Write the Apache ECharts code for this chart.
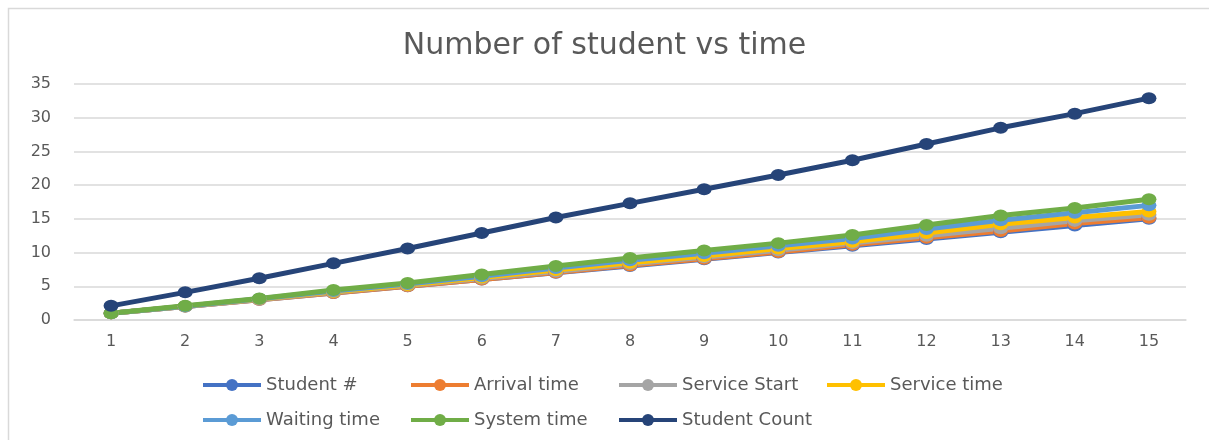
<!DOCTYPE html>
<html>
<head>
<meta charset="utf-8">
<script src="https://cdn.jsdelivr.net/npm/echarts@6/dist/echarts.min.js"></script>
<style>html,body{margin:0;padding:0;background:#fff;}#c{width:1209px;height:440px;}</style>
</head>
<body>
<div id="c"></div>
<script>
const categories = ['1','2','3','4','5','6','7','8','9','10','11','12','13','14','15'];
const studentNo     = [1, 2, 3, 4, 5, 6, 7, 8, 9, 10, 11, 12, 13, 14, 15];
const arrivalTime   = [1, 2, 3, 4, 5, 6, 7.05, 8.1, 9.1, 10.1, 11.15, 12.2, 13.2, 14.3, 15.15];
const serviceStart  = [1, 2, 3.05, 4.1, 5.1, 6.15, 7.2, 8.3, 9.3, 10.35, 11.4, 12.5, 13.6, 14.7, 15.6];
const serviceTime   = [1, 2.05, 3.1, 4.2, 5.2, 6.3, 7.4, 8.5, 9.5, 10.6, 11.6, 12.9, 14.2, 15.2, 16.1];
const waitingTime   = [1, 2.05, 3.15, 4.3, 5.35, 6.5, 7.7, 8.85, 9.9, 11.0, 12.1, 13.5, 14.8, 15.9, 17.0];
const systemTime    = [1, 2.1, 3.2, 4.45, 5.5, 6.75, 8.0, 9.2, 10.3, 11.4, 12.6, 14.1, 15.5, 16.6, 17.9];
const studentCount  = [2.1, 4.1, 6.2, 8.4, 10.6, 12.9, 15.2, 17.3, 19.4, 21.5, 23.7, 26.1, 28.5, 30.6, 32.9];
const yTicks = { min: 0, max: 35, interval: 5 };

const names = ['Student #','Arrival time','Service Start','Service time','Waiting time','System time','Student Count'];
const values = [studentNo, arrivalTime, serviceStart, serviceTime, waitingTime, systemTime, studentCount];
const colors = ['#4472C4','#ED7D31','#A5A5A5','#FFC000','#5B9BD5','#70AD47','#264478'];
const legendPos = [[201,376],[409,376],[617,376],[825,376],[201,411],[409,411],[617,411]];

const font = 'DejaVu Sans';
const chart = echarts.init(document.getElementById('c'), null, {renderer:'canvas'});
chart.setOption({
  animation: false,
  backgroundColor: '#fff',
  color: colors,
  title: {
    text: 'Number of student vs time',
    left: 'center', top: 26,
    textStyle: { fontFamily: font, fontSize: 30, fontWeight: 'normal', color: '#595959' }
  },
  graphic: [{
    type: 'rect', silent: true, z: -1,
    shape: { x: 8.5, y: 8.5, width: 1400, height: 600 },
    style: { fill: 'none', stroke: '#d9d9d9', lineWidth: 1.5 }
  }],
  legend: names.map((n, i) => ({
    data: [n], left: legendPos[i][0], top: legendPos[i][1], padding: 0,
    itemWidth: 58, itemHeight: 15, itemGap: 0,
    lineStyle: { width: 4 },
    textStyle: { fontFamily: font, fontSize: 18, color: '#595959' }
  })),
  grid: { left: 74, right: 23, top: 84, bottom: 120, containLabel: false },
  xAxis: {
    type: 'category', data: categories, boundaryGap: true,
    axisLine: { show: true, lineStyle: { color: '#d9d9d9', width: 1.5 } },
    axisTick: { show: false },
    axisLabel: { fontFamily: font, fontSize: 16, color: '#595959', margin: 14 }
  },
  yAxis: {
    type: 'value', min: yTicks.min, max: yTicks.max, interval: yTicks.interval,
    axisLine: { show: false }, axisTick: { show: false },
    splitLine: { lineStyle: { color: '#d9d9d9', width: 1.5 } },
    axisLabel: { fontFamily: font, fontSize: 16, color: '#595959', margin: 23 }
  },
  series: names.map((n, i) => ({
    name: n, type: 'line', data: values[i],
    symbol: 'circle', symbolSize: [15, 12], showSymbol: true,
    lineStyle: { width: 5, color: colors[i] },
    itemStyle: { color: colors[i] }
  }))
});
</script>
</body>
</html>
